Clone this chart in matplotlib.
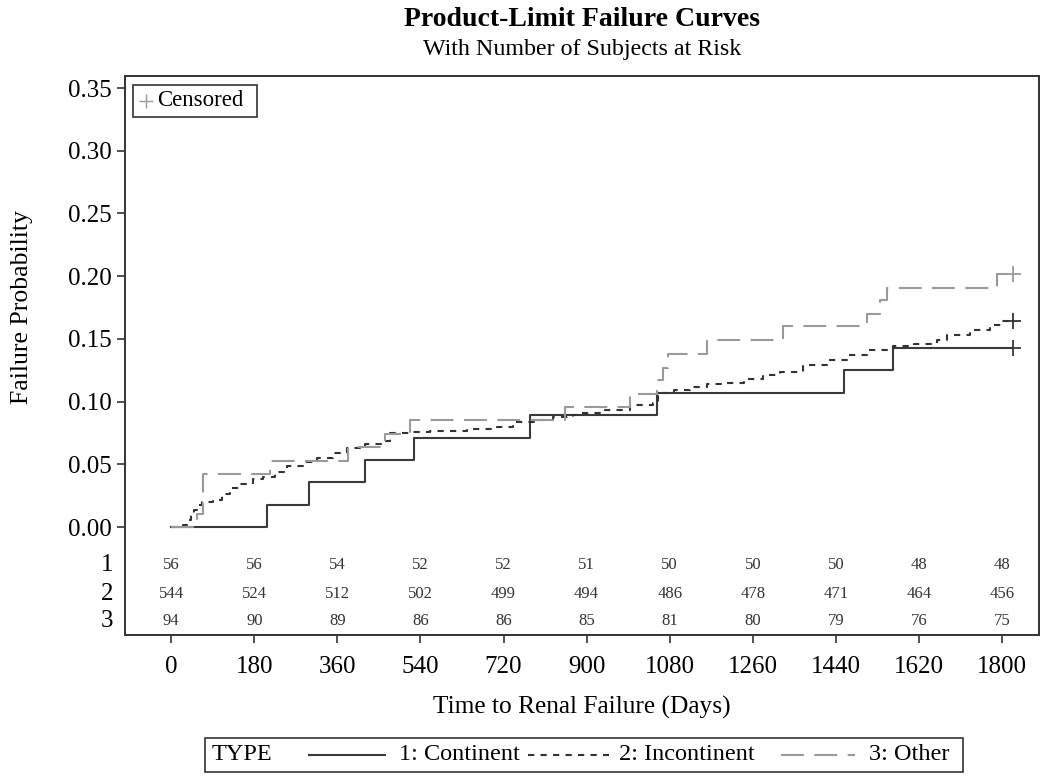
import matplotlib.pyplot as plt
from matplotlib.lines import Line2D
from matplotlib.patches import Rectangle

plt.rcParams["font.family"] = ["Liberation Serif", "DejaVu Serif"]

# step curves: event days and failure probability after each event
cont_days = [0, 208, 299, 420, 525, 778, 1053, 1458, 1564]
cont_prob = [0, 0.0179, 0.0357, 0.0536, 0.0714, 0.0893, 0.1071, 0.125, 0.1429]
cont_cens = 1824

inc_days = [0, 26, 34, 42, 50, 58, 66, 90, 110, 128, 150, 178, 200, 225, 251, 285,
            316, 350, 381, 420, 459, 474, 520, 561, 640, 706, 741, 790, 827, 871,
            886, 940, 994, 1044, 1055, 1090, 1124, 1160, 1196, 1240, 1282, 1320,
            1369, 1420, 1465, 1507, 1564, 1610, 1659, 1681, 1731, 1774, 1800]
inc_prob = [0, 0.002, 0.006, 0.010, 0.014, 0.018, 0.020, 0.022, 0.026, 0.031, 0.034,
            0.038, 0.040, 0.044, 0.049, 0.052, 0.055, 0.059, 0.063, 0.066, 0.069,
            0.075, 0.076, 0.077, 0.078, 0.080, 0.084, 0.085, 0.088, 0.089, 0.091,
            0.093, 0.097, 0.099, 0.107, 0.109, 0.112, 0.114, 0.115, 0.118, 0.121,
            0.124, 0.129, 0.133, 0.137, 0.141, 0.144, 0.146, 0.149, 0.153, 0.157,
            0.161, 0.164]
inc_cens = 1824

oth_days = [0, 57, 70, 214, 383, 463, 518, 853, 994, 1053, 1066, 1076, 1161, 1326,
            1507, 1536, 1551, 1789]
oth_prob = [0, 0.0106, 0.0426, 0.053, 0.064, 0.074, 0.085, 0.096, 0.106, 0.117,
            0.127, 0.138, 0.149, 0.160, 0.170, 0.181, 0.191, 0.202]
oth_cens = 1824

# number at risk
risk_times = [0, 180, 360, 540, 720, 900, 1080, 1260, 1440, 1620, 1800]
risk_1 = [56, 56, 54, 52, 52, 51, 50, 50, 50, 48, 48]
risk_2 = [544, 524, 512, 502, 499, 494, 486, 478, 471, 464, 456]
risk_3 = [94, 90, 89, 86, 86, 85, 81, 80, 79, 76, 75]
risk_rows = ["1", "2", "3"]
yticks = [0.00, 0.05, 0.10, 0.15, 0.20, 0.25, 0.30, 0.35]

c_solid = "#3a3a3a"
c_dot = "#333333"
c_dash = "#9a9a9a"


def main():
    fig = plt.figure(figsize=(10.5, 7.83), dpi=100)
    ax = fig.add_axes([125 / 1050, 1 - 635 / 783, 914 / 1050, 559 / 783])

    curves = [
        (cont_days, cont_prob, cont_cens, c_solid, "-", 1.5),
        (inc_days, inc_prob, inc_cens, c_dot, (0, (3, 3)), 1.5),
        (oth_days, oth_prob, oth_cens, c_dash, (0, (11, 5)), 1.5),
    ]
    for d, p, cens, col, ls, lw in curves:
        ax.step(d + [cens], p + [p[-1]], where="post", color=col, ls=ls, lw=lw)
        ax.plot([cens], [p[-1]], marker="+", ms=12, mew=1.3, color=col, ls="none")

    # at-risk rows inside the frame
    row_y = [-0.030, -0.053, -0.075]
    for yy, vals in zip(row_y, [risk_1, risk_2, risk_3]):
        for t, v in zip(risk_times, vals):
            ax.text(t, yy, str(v), ha="center", va="center", fontsize=12, color="#333333")
    for yy, lab in zip(row_y, risk_rows):
        ax.text(-0.013, yy, lab, transform=ax.get_yaxis_transform(), ha="right",
                va="center", fontsize=18)

    ax.set_xlim(-100, 1880)
    ax.set_ylim(-0.086, 0.3596)
    ax.set_xticks(risk_times)
    ax.set_yticks(yticks)
    ax.set_yticklabels([f"{v:.2f}" for v in yticks])
    ax.tick_params(axis="both", labelsize=18, direction="out", length=6, width=1.2,
                   color="#333333")
    ax.tick_params(axis="x", pad=9)
    for s in ax.spines.values():
        s.set_linewidth(1.4)
        s.set_color("#333333")

    ax.set_xlabel("Time to Renal Failure (Days)", fontsize=18.3, labelpad=13)
    fig.text(22 / 1050, 1 - 307 / 783, "Failure Probability", rotation=90,
             ha="center", va="center", fontsize=18.5)

    fig.text(582 / 1050, 1 - 20 / 783, "Product-Limit Failure Curves", ha="center",
             va="center", fontsize=20, fontweight="bold")
    fig.text(582 / 1050, 1 - 49 / 783, "With Number of Subjects at Risk", ha="center",
             va="center", fontsize=17.3)

    # censored legend
    fig.add_artist(Rectangle((133 / 1050, 1 - 117 / 783), 124 / 1050, 32 / 783,
                             transform=fig.transFigure, fill=False, lw=1.2,
                             edgecolor="#333333"))
    fig.add_artist(Line2D([146 / 1050], [1 - 101 / 783], marker="+", ms=10, mew=1,
                          color=c_dash, transform=fig.transFigure))
    fig.text(157 / 1050, 1 - 101 / 783, "Censored", ha="left", va="center", fontsize=16.5)

    # type legend
    ly = 1 - 755 / 783
    fig.add_artist(Rectangle((205 / 1050, 1 - 772 / 783), 758 / 1050, 34 / 783,
                             transform=fig.transFigure, fill=False, lw=1.2,
                             edgecolor="#333333"))
    fig.text(212 / 1050, ly, "TYPE", ha="left", va="center", fontsize=17.5)
    entries = [
        (309, 385, 399, "1: Continent", c_solid, "-"),
        (528, 609, 619, "2: Incontinent", c_dot, (0, (3, 3))),
        (781, 855, 869, "3: Other", c_dash, (0, (11, 5))),
    ]
    for x0, x1, xt, lab, col, ls in entries:
        fig.add_artist(Line2D([x0 / 1050, x1 / 1050], [ly, ly], color=col, ls=ls,
                              lw=1.5, transform=fig.transFigure))
        fig.text(xt / 1050, ly, lab, ha="left", va="center", fontsize=17.5)

    fig.savefig("out.png", dpi=100)


if __name__ == "__main__":
    main()
